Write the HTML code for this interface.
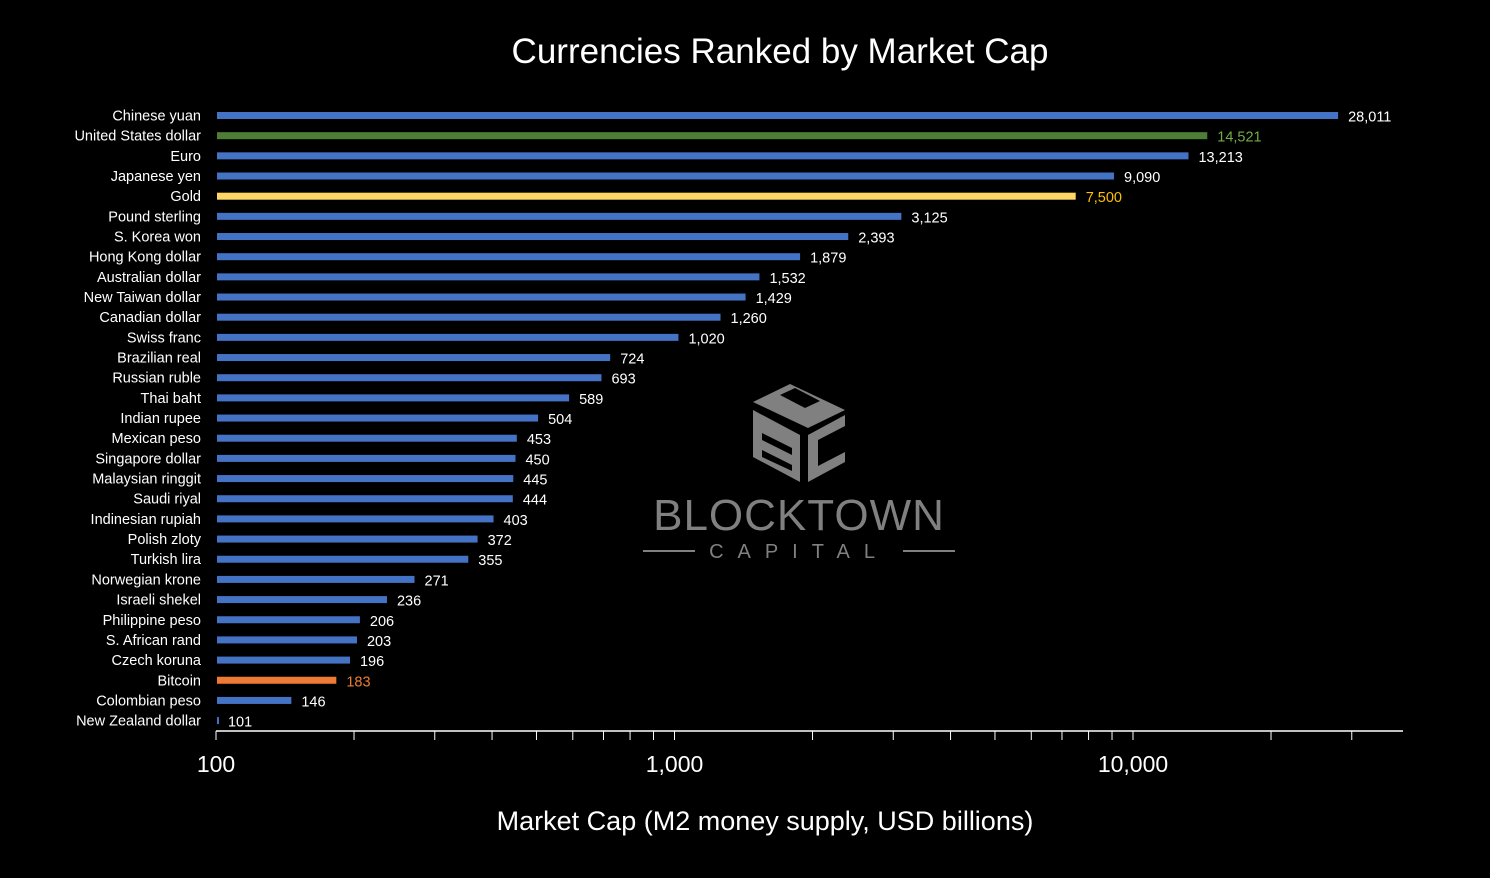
<!DOCTYPE html>
<html><head><meta charset="utf-8"><style>
html,body{margin:0;padding:0;background:#000;}
svg{display:block;font-family:"Liberation Sans",sans-serif;}
</style></head><body>
<svg id="chart" width="1490" height="878">
<rect width="1490" height="878" fill="#000"/>
<text x="780" y="63" text-anchor="middle" fill="#fff" font-size="35">Currencies Ranked by Market Cap</text>
<g fill="#808080">
<polygon points="753,402 790,384 845,410 808,428"/>
<polygon points="753,410 753,457 800,482 800,435"/>
<polygon points="808,435 808,482 845,462 845,415"/>
<polygon points="780,395 795,388 820,401 805,408" fill="#000"/>
<polygon points="762,433 792,448 792,455 762,440" fill="#000"/>
<polygon points="762,450 792,465 792,471 762,457" fill="#000"/>
<polygon points="818,440 845,426 845,452 818,466" fill="#000"/>
<text x="799" y="530" text-anchor="middle" font-size="44" letter-spacing="1">BLOCKTOWN</text>
<text x="799" y="558" text-anchor="middle" font-size="20" letter-spacing="14">CAPITAL</text>
<rect x="643" y="550" width="52" height="2"/>
<rect x="903" y="550" width="52" height="2"/>
</g>
<g id="plot"></g>
<text x="765" y="830" text-anchor="middle" fill="#fff" font-size="27">Market Cap (M2 money supply, USD billions)</text>
</svg>
<script>
const categories=["Chinese yuan","United States dollar","Euro","Japanese yen","Gold","Pound sterling","S. Korea won","Hong Kong dollar","Australian dollar","New Taiwan dollar","Canadian dollar","Swiss franc","Brazilian real","Russian ruble","Thai baht","Indian rupee","Mexican peso","Singapore dollar","Malaysian ringgit","Saudi riyal","Indinesian rupiah","Polish zloty","Turkish lira","Norwegian krone","Israeli shekel","Philippine peso","S. African rand","Czech koruna","Bitcoin","Colombian peso","New Zealand dollar"];
const values=[28011,14521,13213,9090,7500,3125,2393,1879,1532,1429,1260,1020,724,693,589,504,453,450,445,444,403,372,355,271,236,206,203,196,183,146,101];
const majorTicks=[100,1000,10000];
const majorTickLabels=["100","1,000","10,000"];
const minorTicks=[200,300,400,500,600,700,800,900,2000,3000,4000,5000,6000,7000,8000,9000,20000,30000];
const NS="http://www.w3.org/2000/svg";
const plot=document.getElementById('plot');
const x0=216,decade=458.5,yTop=115.5,rowH=20.17,axisY=731,axisEnd=1403;
function xs(v){return x0+(Math.log10(v)-2)*decade;}
function ys(i){return yTop+i*rowH;}
function el(t,a){const e=document.createElementNS(NS,t);for(const k in a)e.setAttribute(k,a[k]);plot.appendChild(e);return e;}
function barColor(c){return c==="United States dollar"?"#4E7E35":c==="Gold"?"#FFD666":c==="Bitcoin"?"#EE7A35":"#4472C4";}
function labelColor(c){return c==="United States dollar"?"#70AD47":c==="Gold"?"#FFC000":c==="Bitcoin"?"#ED7D31":"#fff";}
categories.forEach((c,i)=>{
  const y=ys(i),v=values[i];
  const r=el('rect',{x:x0+1,y:y-3.5,width:Math.max(2,xs(v)-x0-1),height:7,fill:barColor(c)});
  
  
  const t=el('text',{x:201,y:y+5,'text-anchor':'end',fill:'#fff','font-size':14.5});
  t.textContent=c;
  
  
  const l=el('text',{x:xs(v)+10,y:y+6,fill:labelColor(c),'font-size':14.5});
  l.textContent=v.toLocaleString('en-US');
  
  
});
const ax=el('line',{x1:x0,y1:axisY,x2:axisEnd,y2:axisY,stroke:'#fff','stroke-width':1.5});


majorTicks.concat(minorTicks).forEach(v=>{
  const tk=el('line',{x1:xs(v),y1:axisY,x2:xs(v),y2:axisY+9,stroke:'#fff','stroke-width':1});
  
  
});
majorTicks.forEach((v,i)=>{
  const t=el('text',{x:xs(v),y:772,'text-anchor':'middle',fill:'#fff','font-size':23});
  t.textContent=majorTickLabels[i];
  
  
});
</script>
</body></html>
